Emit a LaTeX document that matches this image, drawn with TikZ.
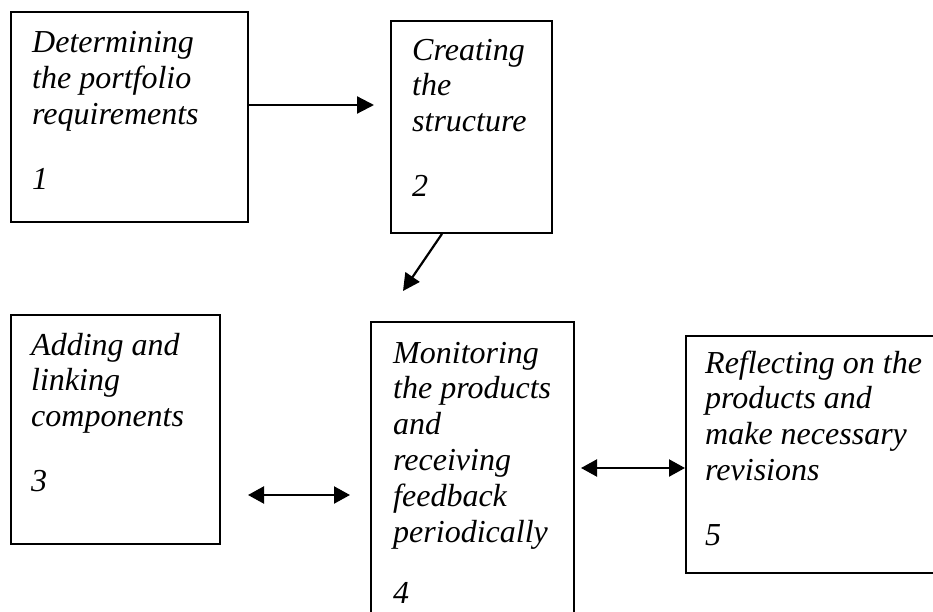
\documentclass[tikz,border=0pt]{standalone}
\usepackage{fontspec}
\setmainfont{Liberation Serif}
\usetikzlibrary{arrows.meta}
\begin{document}
\begin{tikzpicture}[x=1pt,y=-1pt,
  box/.style={draw, line width=1.7pt, inner sep=0pt},
  lbl/.style={anchor=north west, inner sep=0pt, align=left, font=\fontsize{32}{35.8}\selectfont\itshape},
  conn/.style={line width=2.2pt, -{Triangle[length=17pt,width=17pt]}},
  dconn/.style={line width=2.2pt, {Triangle[length=16pt,width=17pt]}-{Triangle[length=16pt,width=17pt]}}]
\useasboundingbox (0,0) rectangle (933,612);
\clip (0,0) rectangle (933,612);
% boxes
\node[box, minimum width=237pt, minimum height=210pt] (b1) at (129.5,117) {};
\node[box, minimum width=161pt, minimum height=212pt] (b2) at (471.5,127) {};
\node[box, minimum width=209pt, minimum height=229pt] (b3) at (115.5,429.5) {};
\node[box, minimum width=203pt, minimum height=328pt] (b4) at (472.5,486) {};
\node[box, minimum width=294pt, minimum height=237pt] (b5) at (833,454.5) {};
% texts
\node[lbl] (t1) at (32,27.4) {\strut Determining\\the portfolio\\requirements\\[29pt]1};
\node[lbl] (t2) at (412,34.9) {\strut Creating\\the\\structure\\[29pt]2};
\node[lbl] (t3) at (31,329.9) {\strut Adding and\\linking\\components\\[29pt]3};
\node[lbl] (t4) at (393,337.9) {\strut Monitoring\\the products\\and\\receiving\\feedback\\periodically\\[26pt]4};
\node[lbl] (t5) at (705,347.9) {\strut Reflecting on the\\products and\\make necessary\\revisions\\[29pt]5};
% connectors
\coordinate (a12e) at (374,105);
\draw[conn] (b1.east |- a12e) -- (a12e);
\coordinate (d2) at (403,291);
\draw[conn] ([xshift=-29.5pt]b2.south) -- (d2);
\coordinate (l34) at (248,495);
\coordinate (r34) at (350,495);
\draw[dconn] (l34) -- (r34);
\coordinate (l45) at (581,468);
\coordinate (r45) at (685,468);
\draw[dconn] (l45) -- (r45);
\end{tikzpicture}
\end{document}
